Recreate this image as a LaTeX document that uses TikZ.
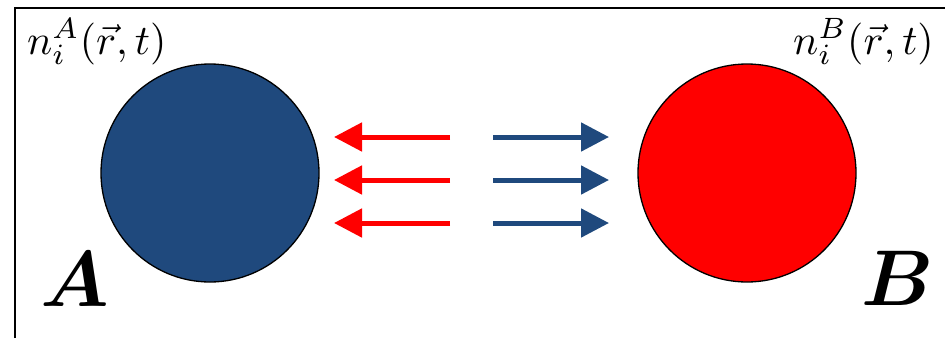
\documentclass[tikz,border=0pt]{standalone}
\usepackage{amsmath}
\usetikzlibrary{arrows.meta}
\definecolor{dblue}{HTML}{1F497D}
\definecolor{pred}{HTML}{FF0000}
\tikzset{
  ball/.style={circle,draw=black,line width=1.3pt,minimum size=218pt,inner sep=0pt},
  flux/.style={line width=5pt,-{Triangle[length=28pt,width=28pt]}},
  lbl/.style={inner sep=0pt}
}
\begin{document}
\begin{tikzpicture}[x=1pt,y=-1pt]
\useasboundingbox (0,0) rectangle (945,338);
\draw[line width=2pt] (14.5,338) -- (14.5,7.5) -- (945,7.5);
\node[ball,fill=dblue] (A) at (210,173) {};
\node[ball,fill=pred] (B) at (747,173) {};
\node[lbl,anchor=base west] (nA) at (27,54) {\scalebox{4.2}{$n_i^A(\vec{r},t)$}};
\node[lbl,anchor=base east] (nB) at (934,54) {\scalebox{4.2}{$n_i^B(\vec{r},t)$}};
\node[lbl,anchor=base west] (lA) at (40,306) {\scalebox{7.9}{$\boldsymbol{A}$}};
\node[lbl,anchor=base east] (lB) at (934,305) {\scalebox{7.9}{$\boldsymbol{B}$}};
\foreach \y [count=\i] in {137,180,223}{
  \coordinate (rs\i) at (450,\y);
  \coordinate (re\i) at (334,\y);
  \coordinate (bs\i) at (493,\y);
  \coordinate (be\i) at (609,\y);
  \draw[flux,pred] (rs\i) -- (re\i);
  \draw[flux,dblue] (bs\i) -- (be\i);
}
\end{tikzpicture}
\end{document}
